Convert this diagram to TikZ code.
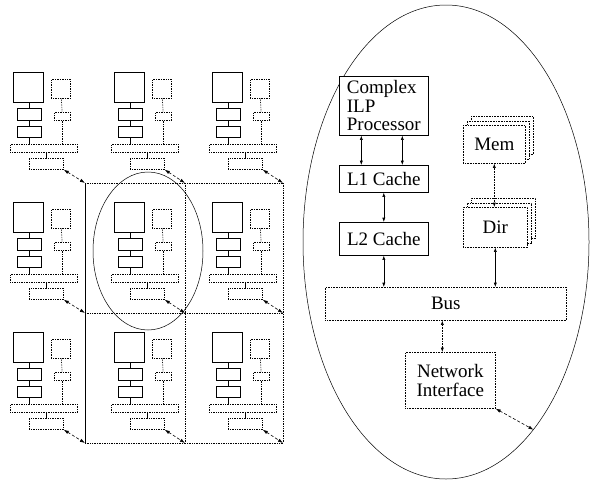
\documentclass[tikz,border=0pt]{standalone}
\usepackage{fontspec}
\setmainfont{Liberation Serif}
\usetikzlibrary{arrows.meta,positioning,calc,shapes.geometric,shadows}
\tikzset{
  cpu/.style={draw, line width=1pt, inner sep=0pt, anchor=north west},
  cache/.style={draw, line width=0.9pt, inner sep=0pt, anchor=north west},
  dotbox/.style={draw, densely dotted, line width=0.7pt, inner sep=0pt, anchor=north west},
  unit/.style={
    draw, line width=0.6pt, fill=white, inner sep=0pt,
    anchor=north west, align=center, font=\fontsize{19}{18.5}\selectfont
  },
  dotunit/.style={unit, densely dotted},
  stack/.style={dotunit, double copy shadow={shadow xshift=4pt, shadow yshift=4.5pt,
    densely dotted, fill=white, line width=0.6pt}},
  link/.style={line width=0.7pt},
  dotlink/.style={line width=0.7pt, densely dotted},
  dbl/.style={{Latex[length=1.5mm,width=1.1mm]}-{Latex[length=1.5mm,width=1.1mm]}, line width=0.6pt},
  netarr/.style={{Latex[length=1.8mm,width=1.2mm]}-{Latex[length=1.8mm,width=1.2mm]},
    line width=0.6pt, dash pattern=on 3pt off 2pt},
  ring/.style={draw, ellipse, line width=0.5pt, inner sep=0pt}
}
\begin{document}
\begin{tikzpicture}[x=1pt, y=-1pt]
  \useasboundingbox (0,0) rectangle (592,482);
  % mesh of routers
  \foreach \row/\y in {0/183,1/313,2/443}
    \foreach \col/\x in {0/85,1/185,2/283}
      \coordinate (g\row\col) at (\x,\y);
  \draw[link] (g00) -- (g20);
  \draw[dotlink] (g01) -- (g21);
  \draw[dotlink] (g02) -- (g22);
  \draw[dotlink] (g00) -- (g02);
  \draw[dotlink] (g10) -- (g12);
  \draw[dotlink] (g20) -- (g22);
  % one small node per mesh point
  \foreach \row/\Y in {0/72,1/202,2/332}
    \foreach \col/\X in {0/13,1/114,2/212} {
      \node[cpu, minimum width=30pt, minimum height=30pt] (p\row\col) at (\X,\Y) {};
      \node[cache, minimum width=24pt, minimum height=12pt] (a\row\col) at (\X+4,\Y+36) {};
      \node[cache, minimum width=24pt, minimum height=11pt] (b\row\col) at (\X+4,\Y+54) {};
      \node[dotbox, minimum width=19pt, minimum height=19pt] (m\row\col) at (\X+38,\Y+7) {};
      \node[dotbox, minimum width=16pt, minimum height=8pt] (d\row\col) at (\X+41,\Y+40) {};
      \node[dotbox, minimum width=67pt, minimum height=8pt] (s\row\col) at (\X-3,\Y+72) {};
      \node[dotbox, minimum width=34pt, minimum height=11pt] (n\row\col) at (\X+16,\Y+86) {};
      \draw[link] (a\row\col.north) -- (a\row\col.north |- p\row\col.south);
      \draw[link] (a\row\col) -- (b\row\col);
      \draw[link] (b\row\col.south) -- (b\row\col.south |- s\row\col.north);
      \draw[dotlink] (m\row\col) -- (d\row\col);
      \draw[dotlink] (d\row\col.south) -- (d\row\col.south |- s\row\col.north);
      \draw[link] (n\row\col.north) -- (n\row\col.north |- s\row\col.south);
      \draw[netarr] (n\row\col.south east) -- (g\row\col);
    }
  \node[ring, minimum width=110pt, minimum height=158pt] (zoomring) at (148,251) {};
  % enlarged node
  \node[ring, minimum width=286pt, minimum height=474pt] (big) at (446,242) {};
  \node[unit, align=left, minimum width=89pt, minimum height=59pt] (proc) at (339,76) {Complex\\ILP\\Processor};
  \node[unit, minimum width=89pt, minimum height=27pt] (l1) at (339,165) {L1 Cache};
  \node[unit, minimum width=89pt, minimum height=33pt] (l2) at (339,222) {L2 Cache};
  \node[stack, minimum width=62pt, minimum height=38pt] (mem) at (463,125) {Mem};
  \node[stack, minimum width=64pt, minimum height=40pt] (dir) at (463,207) {Dir};
  \node[dotunit, minimum width=241pt, minimum height=33pt] (bus) at (325,287) {Bus};
  \node[dotunit, minimum width=90pt, minimum height=56pt] (ni) at (405,352) {Network\\Interface};
  \draw[dbl] ([xshift=-22.5pt]proc.south) -- ([xshift=-22.5pt]l1.north);
  \draw[dbl] ([xshift=18.5pt]proc.south) -- ([xshift=18.5pt]l1.north);
  \draw[dbl] (l1) -- (l2);
  \draw[dbl] (l2.south) -- (l2.south |- bus.north);
  \draw[dbl, densely dotted] (mem.south) -- (mem.south |- dir.north);
  \draw[dbl] (dir.south) -- (dir.south |- bus.north);
  \draw[dbl, densely dotted] ([xshift=-8pt]ni.north) -- ([xshift=-8pt]ni.north |- bus.south);
  \draw[netarr] (ni.south east) -- (big.-65);
\end{tikzpicture}
\end{document}
